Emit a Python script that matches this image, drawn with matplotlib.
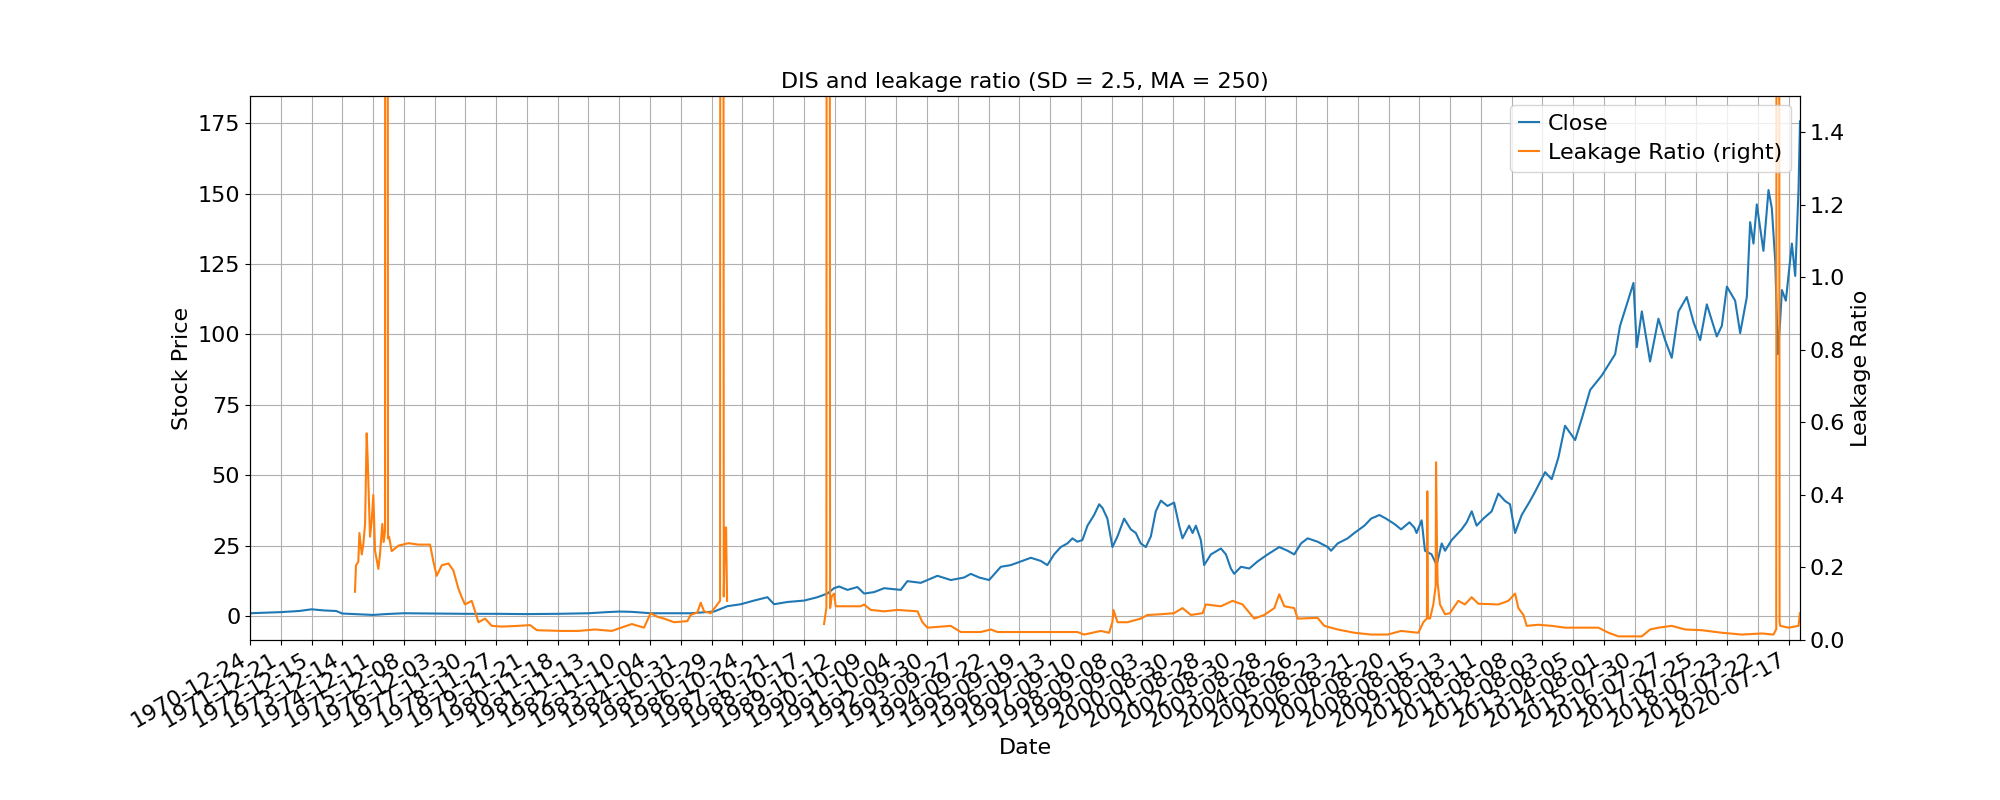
import numpy as np
import matplotlib
matplotlib.use("Agg")
import matplotlib.pyplot as plt

# x axis is the trading-day row number; a tick every 250 rows
tick_dates = ["1970-12-24", "1971-12-21", "1972-12-15", "1973-12-14", "1974-12-11",
              "1975-12-08", "1976-12-03", "1977-11-30", "1978-11-27", "1979-11-21",
              "1980-11-18", "1981-11-13", "1982-11-10", "1983-11-04", "1984-10-31",
              "1985-10-29", "1986-10-24", "1987-10-21", "1988-10-17", "1989-10-12",
              "1990-10-09", "1991-10-04", "1992-09-30", "1993-09-27", "1994-09-22",
              "1995-09-19", "1996-09-13", "1997-09-10", "1998-09-08", "1999-09-03",
              "2000-08-30", "2001-08-28", "2002-08-30", "2003-08-28", "2004-08-26",
              "2005-08-23", "2006-08-21", "2007-08-20", "2008-08-15", "2009-08-13",
              "2010-08-11", "2011-08-08", "2012-08-03", "2013-08-05", "2014-08-01",
              "2015-07-30", "2016-07-27", "2017-07-25", "2018-07-23", "2019-07-22",
              "2020-07-17"]
tick_step = 250
n_rows = 12593

# DIS close
close_rows = [0, 250, 400, 500, 600, 700, 750, 900, 1000, 1100, 1250, 1500, 1750, 2000,
              2250, 2500, 2750, 2900, 3000, 3100, 3255, 3580, 3770, 3878, 3987, 4095,
              4204, 4258, 4366, 4502, 4610, 4691, 4745, 4786, 4854, 4935, 4989, 5070,
              5152, 5287, 5341, 5450, 5585, 5694, 5802, 5856, 5924, 6005, 6100, 6181,
              6262, 6344, 6424, 6478, 6533, 6587, 6641, 6682, 6722, 6763, 6804, 6858,
              6899, 6926, 6966, 7007, 7048, 7102, 7156, 7197, 7237, 7278, 7319, 7359,
              7400, 7454, 7508, 7549, 7576, 7630, 7658, 7685, 7725, 7752, 7807, 7888,
              7929, 7969, 7996, 8051, 8119, 8186, 8268, 8362, 8430, 8484, 8539, 8593,
              8674, 8756, 8783, 8837, 8918, 8972, 9054, 9108, 9176, 9230, 9298, 9352,
              9420, 9460, 9478, 9519, 9546, 9600, 9641, 9682, 9709, 9763, 9844, 9885,
              9926, 9966, 10020, 10088, 10142, 10196, 10237, 10278, 10332, 10400,
              10440, 10522, 10576, 10630, 10684, 10766, 10820, 10888, 10982, 11037,
              11091, 11131, 11186, 11240, 11267, 11308, 11375, 11443, 11497, 11551,
              11606, 11673, 11728, 11782, 11836, 11917, 11958, 11999, 12066, 12107,
              12161, 12188, 12215, 12242, 12296, 12337, 12364, 12392, 12413, 12432,
              12446, 12478, 12527, 12554, 12581, 12593]
close_vals = [1.0, 1.4, 1.8, 2.4, 2.0, 1.8, 0.9, 0.6, 0.4, 0.7, 1.0, 0.9, 0.8, 0.8,
              0.7, 0.8, 1.0, 1.4, 1.6, 1.5, 1.0, 1.0, 1.6, 3.5, 4.2, 5.5,
              6.7, 4.2, 5.0, 5.5, 6.7, 8.0, 9.9, 10.5, 9.3, 10.3, 8.0, 8.5,
              9.9, 9.3, 12.4, 11.8, 14.3, 12.8, 13.7, 15.0, 13.7, 12.8, 17.5, 18.1,
              19.4, 20.7, 19.6, 18.1, 21.9, 24.5, 25.8, 27.6, 26.4, 27.0, 32.1, 35.9,
              39.7, 38.4, 34.6, 24.5, 28.3, 34.6, 30.8, 29.5, 25.8, 24.5, 28.3, 37.2,
              41.0, 39.1, 40.3, 32.1, 27.6, 32.1, 29.5, 32.1, 27.0, 18.1, 21.9, 24.0,
              21.9, 16.9, 15.0, 17.5, 16.9, 19.4, 21.9, 24.5, 23.2, 21.9, 25.8, 27.6,
              26.4, 24.5, 23.2, 25.8, 27.6, 29.5, 32.1, 34.6, 35.9, 34.6, 32.7, 30.8,
              33.3, 31.4, 29.5, 34.0, 23.2, 21.9, 18.1, 25.8, 23.2, 27.0, 30.8, 33.3,
              37.2, 32.1, 34.6, 37.2, 43.5, 40.9, 39.7, 29.5, 35.9, 40.9,
              44.1, 51.1, 48.6, 56.3, 67.6, 62.5, 70.1, 80.3, 85.4, 89.2,
              93.0, 103.1, 110.7, 118.3, 95.5, 108.2, 90.4, 105.6, 98.0, 91.7,
              108.2, 113.3, 104.4, 98.0, 110.7, 99.3, 103.1, 117.0, 112.0, 100.5,
              113.3, 139.9, 132.3, 146.2, 129.7, 151.3, 144.9, 125.9, 93.0, 105.0,
              115.8, 112.0, 132.3, 120.8, 151.3, 175.7]

# leakage ratio; nan = no value, 5.0 = spike that runs off the top of the axis
leak_rows = [853, 861, 880, 889, 908, 921, 935, 948, 956, 967, 975, 989, 1002, 1016,
             1043, 1056, 1075, 1086, 1097, 1100, 1116, 1121, 1130, 1151, 1205, 1287,
             1368, 1463, 1490, 1517, 1558, 1612, 1652, 1693, 1720, 1747, 1801, 1829,
             1856, 1910, 1964, 2045, 2181, 2276, 2330, 2533, 2668, 2804, 2939, 3102,
             3201, 3255, 3310, 3364, 3445, 3553, 3580, 3635, 3662, 3689, 3743, 3797,
             3819, 3824, 3843, 3849, 3860, 3868, 3876, 3877,
             4663, 4664, 4683, 4688, 4705, 4713, 4726, 4745, 4759, 4854, 4962, 4989,
             5043, 5152, 5260, 5423, 5463, 5504, 5693, 5775, 5937, 6019, 6073, 6344,
             6722, 6777, 6912, 6980, 7007, 7015, 7048, 7129, 7237, 7292, 7400, 7508,
             7576, 7644, 7739, 7766, 7888, 7983, 8064, 8159, 8240, 8322, 8362, 8403,
             8484, 8512, 8674, 8728, 8837, 8972, 9108, 9244, 9352, 9492, 9533, 9562,
             9565, 9570, 9587, 9614, 9633, 9636, 9644, 9649, 9668, 9709, 9749, 9776,
             9817, 9871, 9925, 9980, 10142, 10224, 10278, 10305, 10346, 10373, 10467,
             10576, 10684, 10955, 11037, 11118, 11308, 11375, 11443, 11551, 11660,
             11795, 11958, 12121, 12283, 12378, 12400, 12405, 12419, 12427, 12432,
             12500, 12581, 12593]
leak_vals = [0.133, 0.206, 0.216, 0.295, 0.236, 0.265, 0.32, 0.57, 0.50, 0.373, 0.285, 0.33, 0.40, 0.246,
             0.196, 0.236, 0.32, 0.27, 0.30, 5.0, 5.0, 0.28, 0.285, 0.245, 0.26, 0.267,
             0.263, 0.263, 0.216, 0.177, 0.206, 0.211, 0.192, 0.142, 0.118, 0.098, 0.108, 0.079,
             0.049, 0.059, 0.039, 0.037, 0.039, 0.041, 0.027, 0.025, 0.025, 0.029, 0.025, 0.044,
             0.034, 0.074, 0.064, 0.059, 0.049, 0.052, 0.069, 0.076, 0.103, 0.079, 0.074, 0.098,
             0.108, 5.0, 5.0, 0.12, 0.31, 0.31, 0.108, np.nan,
             np.nan, 0.044, 0.09, 5.0, 5.0, 0.088, 0.12, 0.128, 0.093, 0.093, 0.093, 0.098,
             0.083, 0.079, 0.083, 0.079, 0.049, 0.034, 0.039, 0.022, 0.022, 0.029, 0.022, 0.022,
             0.022, 0.015, 0.025, 0.02, 0.05, 0.083, 0.049, 0.049, 0.059, 0.069, 0.071, 0.074,
             0.088, 0.069, 0.074, 0.098, 0.093, 0.108, 0.098, 0.059, 0.069, 0.088, 0.126, 0.093,
             0.088, 0.059, 0.061, 0.039, 0.029, 0.02, 0.015, 0.015, 0.025, 0.02, 0.049, 0.06,
             0.41, 0.06, 0.059, 0.098, 0.15, 0.49, 0.25, 0.157, 0.098, 0.071, 0.074, 0.088,
             0.108, 0.098, 0.118, 0.100, 0.098, 0.108, 0.128, 0.088, 0.069, 0.039, 0.042,
             0.039, 0.034, 0.034, 0.02, 0.01, 0.01, 0.029, 0.034, 0.039, 0.029,
             0.027, 0.02, 0.015, 0.018, 0.015, 0.03, 5.0, 5.0, 0.05, 0.039,
             0.034, 0.039, 0.074]

plt.rcParams["font.size"] = 16

fig, ax = plt.subplots(figsize=(20, 8), dpi=100)
line_close, = ax.plot(close_rows, close_vals, color="C0", label="Close")
ax.set_xlim(0, n_rows)
ax.set_ylim(-8.5, 184.7)
ax.set_ylabel("Stock Price")
ax.set_xlabel("Date")
ax.grid(True)

ax2 = ax.twinx()
line_leak, = ax2.plot(leak_rows, leak_vals, color="C1", label="Leakage Ratio (right)")
ax2.set_ylim(0, 1.5)
ax2.set_ylabel("Leakage Ratio")

ax.set_xticks(np.arange(len(tick_dates)) * tick_step)
ax.set_xticklabels(tick_dates)
ax.set_title("DIS and leakage ratio (SD = 2.5, MA = 250)", fontsize=16)
ax2.legend([line_close, line_leak], ["Close", "Leakage Ratio (right)"],
           loc="upper right", handlelength=0.9, handletextpad=0.4,
           labelspacing=0.4, borderaxespad=0.4)
fig.autofmt_xdate()

plt.savefig("out.png")
